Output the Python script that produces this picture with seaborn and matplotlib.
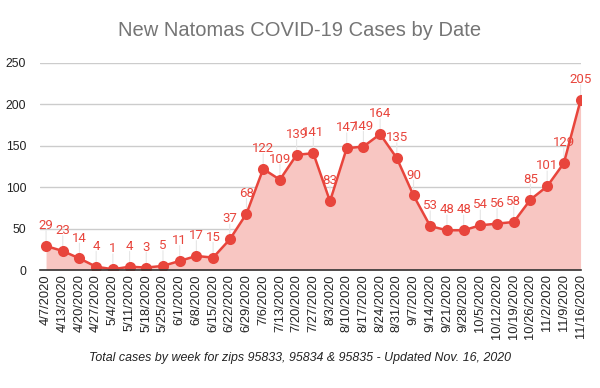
import pandas as pd
import matplotlib.pyplot as plt
import seaborn as sns

dates = ["4/7/2020", "4/13/2020", "4/20/2020", "4/27/2020", "5/4/2020", "5/11/2020",
         "5/18/2020", "5/25/2020", "6/1/2020", "6/8/2020", "6/15/2020", "6/22/2020",
         "6/29/2020", "7/6/2020", "7/13/2020", "7/20/2020", "7/27/2020", "8/3/2020",
         "8/10/2020", "8/17/2020", "8/24/2020", "8/31/2020", "9/7/2020", "9/14/2020",
         "9/21/2020", "9/28/2020", "10/5/2020", "10/12/2020", "10/19/2020", "10/26/2020",
         "11/2/2020", "11/9/2020", "11/16/2020"]
cases = [29, 23, 14, 4, 1, 4, 3, 5, 11, 17, 15, 37, 68, 122, 109, 139, 141, 83,
         147, 149, 164, 135, 90, 53, 48, 48, 54, 56, 58, 85, 101, 129, 205]

df = pd.DataFrame({"date": dates, "cases": cases})
df["pos"] = range(len(df))

sns.set_style("white")
plt.rcParams["font.family"] = ["Liberation Sans", "DejaVu Sans"]

red = "#e8453c"
pink = "#f8c6c2"

fig = plt.figure(figsize=(6, 3.88), dpi=100)
ax = fig.add_axes([0.067, 0.304, 0.902, 0.534])

ax.fill_between(df["pos"], df["cases"], 0, color=pink, lw=0, zorder=1)
sns.lineplot(data=df, x="pos", y="cases", ax=ax, color=red, lw=1.8,
             marker="o", markersize=8, markeredgewidth=0, zorder=3)

# value labels with faint leader lines
for p, v in zip(df["pos"], df["cases"]):
    ax.annotate(str(v), (p, v), xytext=(0, 10), textcoords="offset points",
                ha="center", va="bottom", color=red, fontsize=9.5,
                family="Roboto", zorder=4)
    ax.annotate("", (p, v), xytext=(0, 11), textcoords="offset points",
                arrowprops=dict(arrowstyle="-", color="#e6e6e6", lw=0.8,
                                shrinkA=0, shrinkB=0), zorder=2)

ax.set_ylim(0, 250)
ax.set_xlim(-0.35, len(df) - 1 + 0.05)
ax.set_yticks(range(0, 251, 50))
ax.yaxis.grid(True, color="#cccccc", lw=1)
ax.set_axisbelow(True)
ax.set_xticks(df["pos"])
ax.set_xticklabels(df["date"], rotation=90, fontsize=9.3, color="#222222")
ax.tick_params(axis="y", labelsize=8.8, labelcolor="#222222", length=0, pad=10)
ax.tick_params(axis="x", length=0, pad=3)
ax.set_xlabel("")
ax.set_ylabel("")
for side in ["top", "right", "left"]:
    ax.spines[side].set_visible(False)
ax.spines["bottom"].set_color("#333333")
ax.spines["bottom"].set_linewidth(1.2)
ax.spines["bottom"].set_zorder(5)

fig.text(0.5, 0.922, "New Natomas COVID-19 Cases by Date", ha="center", va="center",
         fontsize=14.5, color="#757575")
fig.text(0.5, 0.077, "Total cases by week for zips 95833, 95834 & 95835 - Updated Nov. 16, 2020",
         ha="center", va="center", fontsize=8.9, style="italic", color="#222222")

fig.savefig("out.png", dpi=100)
